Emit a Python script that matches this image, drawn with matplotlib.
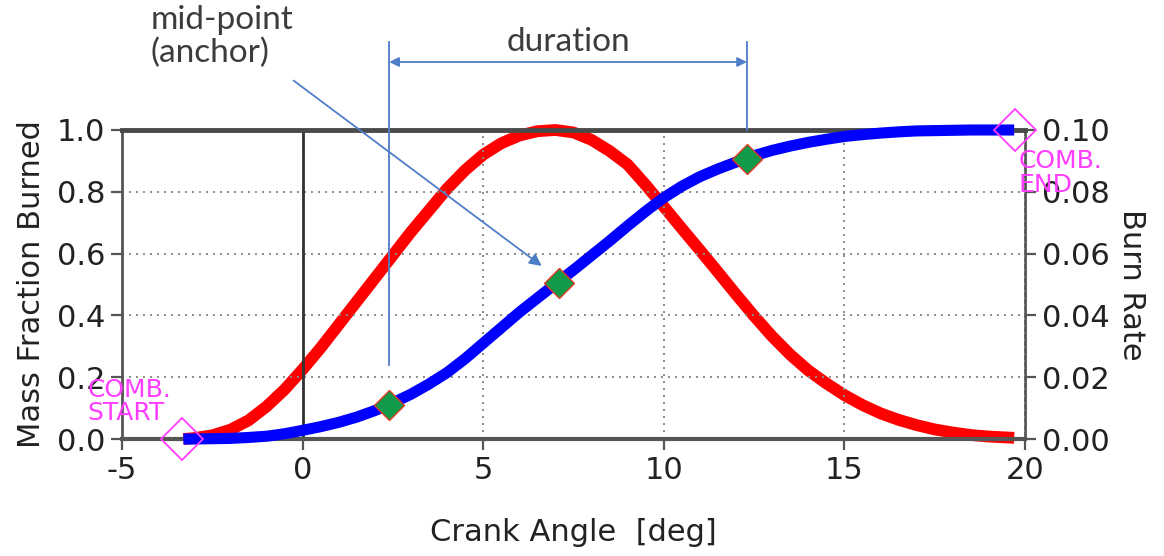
import matplotlib
matplotlib.use("Agg")
import matplotlib.pyplot as plt

# values
crank_deg = [-3.3, -3.0, -2.5, -2.0, -1.5, -1.0, -0.5, 0.0, 0.5, 1.0, 1.5, 2.0,
             2.5, 3.0, 3.5, 4.0, 4.5, 5.0, 5.5, 6.0, 6.5, 7.0, 7.5, 8.0,
             8.5, 9.0, 9.5, 10.0, 10.5, 11.0, 11.5, 12.0, 12.5, 13.0, 13.5, 14.0,
             14.5, 15.0, 15.5, 16.0, 16.5, 17.0, 17.5, 18.0, 18.5, 19.0, 19.5, 19.7]
mass_fraction = [0.000, 0.000, 0.001, 0.002, 0.005, 0.009, 0.017, 0.028, 0.040, 0.054, 0.071, 0.092,
                 0.117, 0.145, 0.178, 0.215, 0.260, 0.310, 0.360, 0.410, 0.456, 0.502, 0.547, 0.594,
                 0.641, 0.690, 0.737, 0.781, 0.818, 0.849, 0.874, 0.896, 0.917, 0.934, 0.948, 0.960,
                 0.970, 0.979, 0.985, 0.990, 0.994, 0.997, 0.998, 0.999, 1.000, 1.000, 1.000, 1.000]
burn_rate = [0.0000, 0.0003, 0.0012, 0.0030, 0.0060, 0.0105, 0.0160, 0.0225, 0.0295, 0.0370, 0.0445, 0.0520,
             0.0595, 0.0670, 0.0740, 0.0810, 0.0870, 0.0920, 0.0957, 0.0982, 0.0996, 0.1000, 0.0992, 0.0968,
             0.0932, 0.0888, 0.0822, 0.0752, 0.0681, 0.0611, 0.0540, 0.0468, 0.0398, 0.0332, 0.0273, 0.0222,
             0.0180, 0.0142, 0.0110, 0.0083, 0.0062, 0.0045, 0.0031, 0.0021, 0.0013, 0.0008, 0.0005, 0.0004]

key_deg = [2.4, 7.1, 12.3]        # 10 %, 50 %, 90 % burned
key_frac = [0.11, 0.505, 0.905]
comb_deg = [-3.35, 19.72]         # combustion start / end
comb_frac = [0.0, 1.0]

x_ticks = [-5, 0, 5, 10, 15, 20]
frac_ticks = [0.0, 0.2, 0.4, 0.6, 0.8, 1.0]
rate_ticks = [0.0, 0.02, 0.04, 0.06, 0.08, 0.10]

# annotation geometry (data units of the left axis)
dur_start, dur_end = 2.4, 12.3
dur_y = 1.22
line_top = 1.285
line_low = 0.24
anchor_from = (-0.25, 1.16)
anchor_to = (6.62, 0.56)

plt.rcParams['font.family'] = ['DejaVu Sans']
plt.rcParams['axes.unicode_minus'] = False
grey = '#555555'
note_blue = '#4f7ec8'
magenta = '#ff3cff'

fig = plt.figure(figsize=(11.64, 5.56), dpi=100)
ax = fig.add_axes([0.1048, 0.2104, 0.7758, 0.5558])
ax2 = ax.twinx()
ax.set_zorder(ax2.get_zorder() + 1)
ax.patch.set_visible(False)

# burn rate on the right axis
ax2.plot(crank_deg, burn_rate, color='#ff0000', lw=8.5, solid_capstyle='butt',
         solid_joinstyle='round', clip_on=False)
ax2.set_ylim(0, 0.10)
ax2.set_yticks(rate_ticks)
ax2.set_yticklabels(['%.2f' % v for v in rate_ticks])
ax2.set_ylabel('Burn Rate', fontsize=22, rotation=270, labelpad=26, color='#222222')

# mass fraction on the left axis
ax.plot(crank_deg, mass_fraction, color='#0000ff', lw=8, solid_capstyle='butt',
        solid_joinstyle='round', clip_on=False, zorder=3)
ax.plot(key_deg, key_frac, 'D', ms=15, mfc='#109a4a', mec='#e03a20', mew=1.0, zorder=5, clip_on=False)
ax.plot(comb_deg, comb_frac, 'D', ms=21, mfc='none', mec=magenta, mew=1.3, zorder=6, clip_on=False)

ax.set_xlim(-5, 20)
ax.set_ylim(0, 1.0)
ax.set_xticks(x_ticks)
ax.set_yticks(frac_ticks)
ax.set_yticklabels(['%.1f' % v for v in frac_ticks])
ax.set_xlabel('Crank Angle  [deg]', fontsize=22, labelpad=24, color='#222222')
ax.set_ylabel('Mass Fraction Burned', fontsize=22, labelpad=8, color='#222222')

ax.grid(True, ls=(0, (1, 2.6)), color='#8a8a8a', lw=1.4)
ax.axvline(0, color='#333333', lw=2, zorder=2)

for a in (ax, ax2):
    a.tick_params(direction='out', length=8, width=1.6, color=grey,
                  labelsize=22, labelcolor='#222222', pad=4)
for side in ('left', 'bottom', 'top'):
    ax2.spines[side].set_visible(False)
ax.spines['right'].set_visible(False)
ax.spines['left'].set_color(grey)
ax.spines['left'].set_linewidth(2)
ax.spines['bottom'].set_color(grey)
ax.spines['bottom'].set_linewidth(3)
ax.spines['top'].set_color('#4a4a4a')
ax.spines['top'].set_linewidth(3.5)
ax2.spines['right'].set_color(grey)
ax2.spines['right'].set_linewidth(2)

# magenta labels
ax.text(-5.95, 0.198, 'COMB.\nSTART', color=magenta, fontsize=18, va='top', ha='left',
        linespacing=0.97, clip_on=False, zorder=7)
ax.text(19.82, 0.937, 'COMB.\nEND', color=magenta, fontsize=18, va='top', ha='left',
        linespacing=0.97, clip_on=False, zorder=7)

# duration bracket
ax.plot([dur_start, dur_start], [line_low, line_top], color=note_blue, lw=1.3, clip_on=False, zorder=4)
ax.plot([dur_end, dur_end], [1.0, line_top], color=note_blue, lw=1.3, clip_on=False, zorder=4)
ax.annotate('', xy=(dur_end, dur_y), xytext=(dur_start, dur_y), annotation_clip=False,
            arrowprops=dict(arrowstyle='<|-|>', color=note_blue, lw=1.3,
                            shrinkA=0, shrinkB=0, mutation_scale=14))
ax.text((dur_start + dur_end) / 2, 1.285, 'duration', fontsize=24, family='Lato',
        color='#3c3c3c', ha='center', va='center', clip_on=False)

# mid-point arrow
ax.annotate('', xy=anchor_to, xytext=anchor_from, annotation_clip=False,
            arrowprops=dict(arrowstyle='-|>', color=note_blue, lw=1.3,
                            shrinkA=0, shrinkB=0, mutation_scale=18))
ax.text(-4.2, 1.405, 'mid-point\n(anchor)', fontsize=24, family='Lato', color='#3c3c3c',
        ha='left', va='top', linespacing=1.1, clip_on=False)

fig.savefig('out.png', dpi=100)
